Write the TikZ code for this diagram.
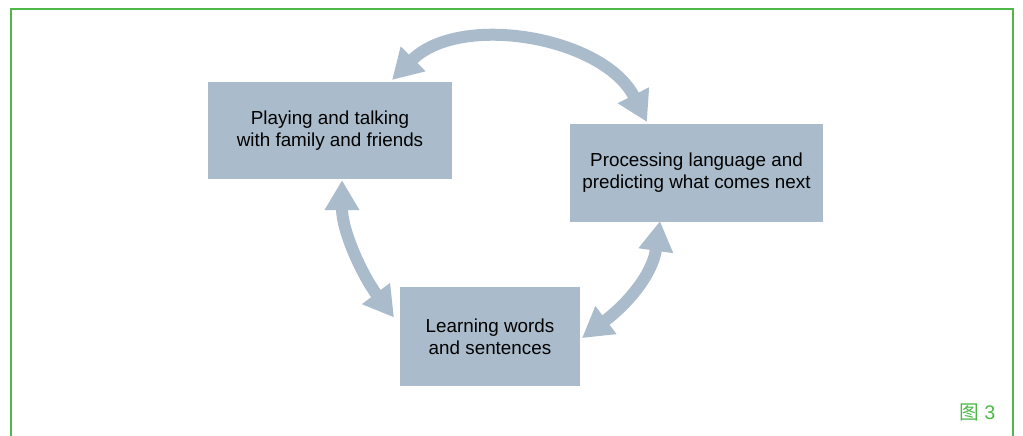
\documentclass[tikz,border=0pt]{standalone}
\usepackage{fontspec}
\setmainfont{Liberation Sans}
\newfontfamily\cjkfont{Noto Sans CJK SC}
\usetikzlibrary{arrows.meta}
\definecolor{boxblue}{RGB}{170,188,203}
\definecolor{framegreen}{RGB}{77,184,72}

\begin{document}
\begin{tikzpicture}[every node/.style={inner sep=0pt, outer sep=0pt},
  stagebox/.style={fill=boxblue, align=center, font=\fontsize{13.4}{15.6}\selectfont},
  cyclearrow/.style={draw=boxblue, line width=0.3cm,
    {Triangle[width=0.825cm,length=0.75cm]}-{Triangle[width=0.825cm,length=0.75cm]}}]
\useasboundingbox (0,0) rectangle (25.575,10.875);

% frame
\draw[framegreen, line width=0.05cm] (0.275,-0.1) |- (25.325,10.65) -- (25.325,-0.1);
\node[text=framegreen, font=\fontsize{14}{16}\selectfont] (fig) at (24.43,0.575) {{\cjkfont 图} 3};

% stages
\node[stagebox, minimum width=6.1cm, minimum height=2.425cm] (play) at (8.25,7.6125)
  {Playing and talking\\with family and friends};
\node[stagebox, minimum width=6.325cm, minimum height=2.45cm] (proc) at (17.4125,6.55)
  {Processing language and\\predicting what comes next};
\node[stagebox, minimum width=4.5cm, minimum height=2.475cm] (learn) at (12.25,2.4625)
  {Learning words\\and sentences};

% cycle
\draw[cyclearrow] ([xshift=1.55cm,yshift=0.05cm]play.north)
  to[out=45, in=117, looseness=0.95] ([xshift=1.925cm,yshift=0.05cm]proc.north west);
\draw[cyclearrow] ([xshift=0.3cm,yshift=-0.03cm]play.south)
  to[out=270, in=127, looseness=0.9] ([xshift=-0.15cm,yshift=0.475cm]learn.west);
\draw[cyclearrow] ([xshift=-0.9125cm,yshift=0.025cm]proc.south)
  to[out=262, in=37, looseness=1] ([xshift=0.05cm,yshift=-0.04cm]learn.east);
\end{tikzpicture}
\end{document}
